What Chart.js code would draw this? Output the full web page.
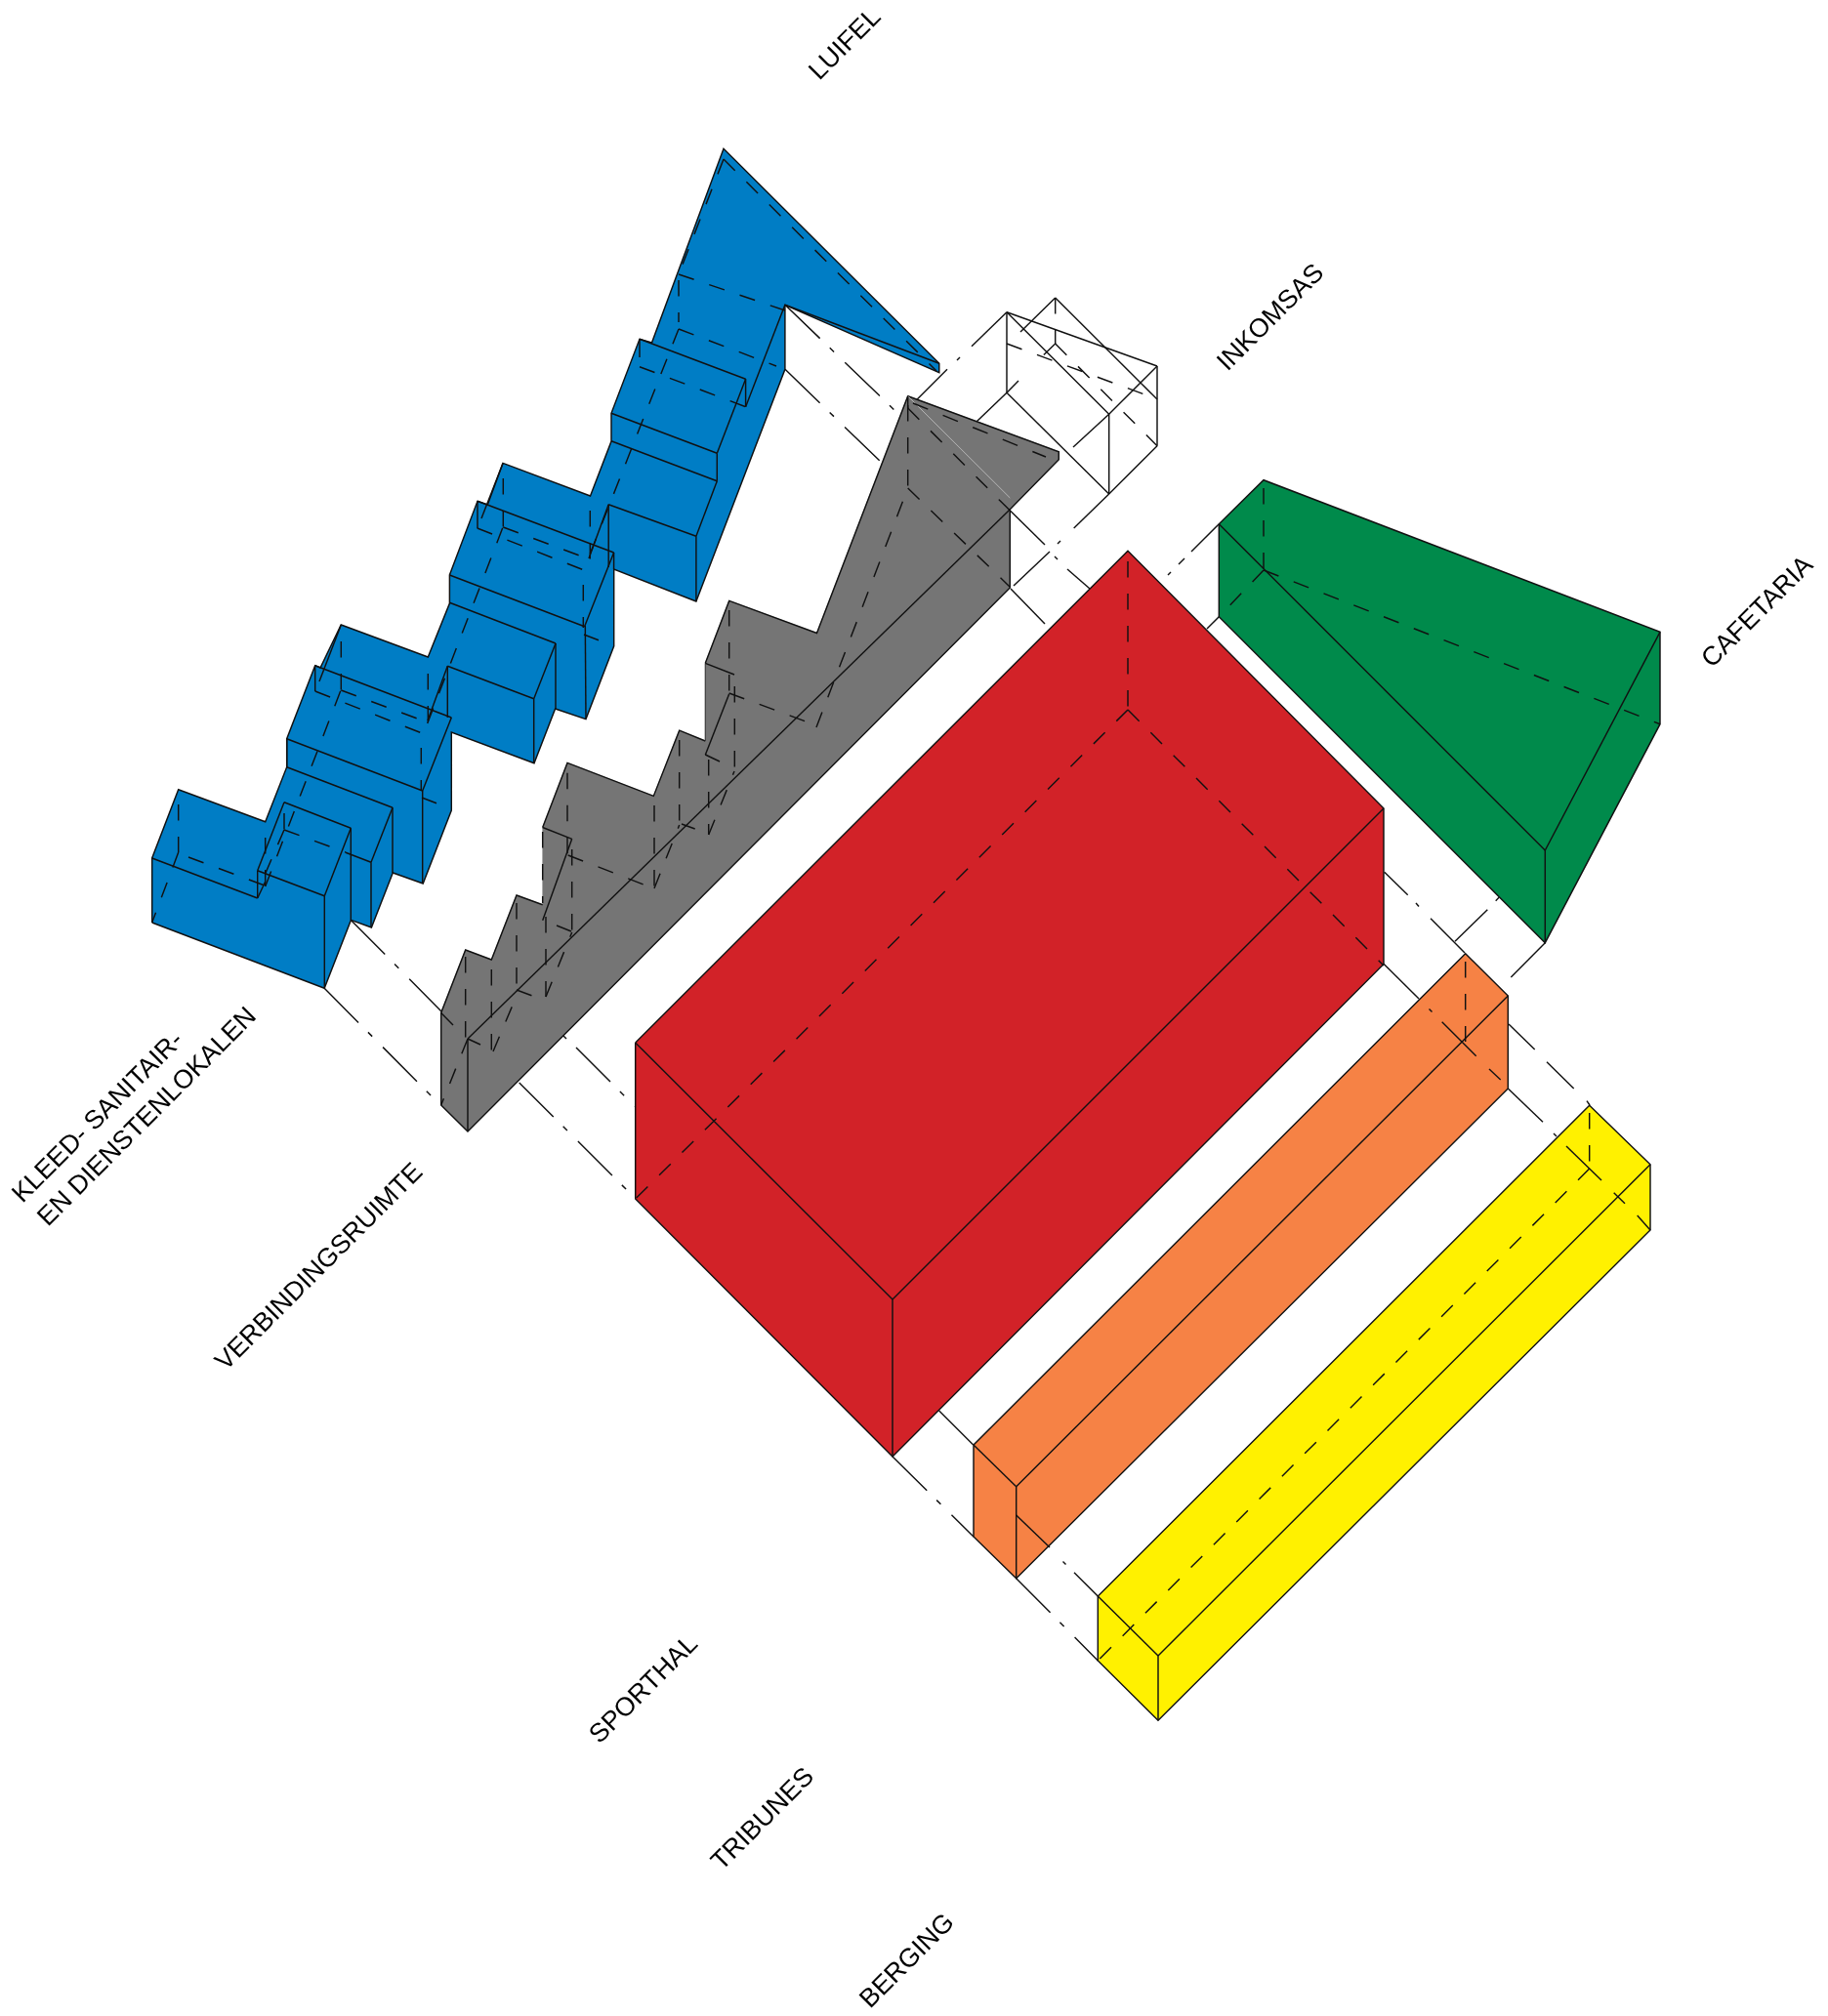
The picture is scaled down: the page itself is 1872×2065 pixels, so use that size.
<!DOCTYPE html>
<html><head><meta charset="utf-8">
<script src="https://cdn.jsdelivr.net/npm/chart.js@4"></script>
<style>html,body{margin:0;padding:0;background:#fff}canvas{display:block}</style>
</head><body>
<canvas id="c" width="1872" height="2065"></canvas>
<script>
// ---- labels ----
const labelTexts = ["LUIFEL","INKOMSAS","CAFETARIA","KLEED- SANITAIR-","EN DIENSTENLOKALEN","VERBINDINGSRUIMTE","SPORTHAL","TRIBUNES","BERGING"];
const labelX = [839,1257,1753,23,49,231,614,739,891];
const labelY = [83,381,685,1233,1257,1405,1787,1917,2058];
// ---- volumes (outlines) ----
const blueOutline = [[155.7,945],[155.7,879],[182.7,808.7],[271.7,841.7],[293.7,785.7],[293.7,756.7],[322.7,681.7],[328,684],[349.3,640],[438.3,673],[460.4,618],[460.4,589],[489,513.3],[499.3,517],[515,474.4],[604.5,508],[626,452],[626,423.3],[655,347.3],[667.5,351],[741,152.3],[961.8,372.3],[961.8,381.7],[803.9,312.3],[803.9,378.3],[712.9,616],[628.7,583],[628.7,661.8],[600,736.6],[568.6,726],[547,781.8],[462.3,750],[462.3,830],[433.2,905],[402.3,894],[380.4,950],[359.4,942.4],[332.2,1012.3]];
const grayOutline = [[479,1159],[451.7,1132],[451.7,1037.5],[476.7,973],[503.3,983],[529,917],[555.7,926.8],[555.7,847.5],[581,781.4],[669.3,815.4],[695.7,748.2],[722.3,759],[722.3,679.3],[746.7,615.4],[836.5,648.5],[929.7,405.7],[1084.3,462.7],[1084.3,470.7],[1034.3,521.7],[1034.3,602]];
const grayBorderLow = [[555.7,926.8],[529,917],[503.3,983],[476.7,973],[451.7,1037.5],[451.7,1132],[479,1159],[1034.3,602],[1034.3,521.7],[1084.3,470.7],[1084.3,462.7],[929.7,405.7],[836.5,648.5],[746.7,615.4],[722.3,679.3]];
const grayBorderHigh = [[722.3,759],[695.7,748.2],[669.3,815.4],[581,781.4],[555.7,847.5]];
const redOutline = [[650.7,1068],[1155,564.3],[1417,828],[1417,987.5],[914,1492],[650.7,1228]];
const orangeOutline = [[997,1480],[1500.7,976.7],[1544.3,1020],[1544.3,1115],[1040.7,1616.7],[997,1574]];
const yellowOutline = [[1124.3,1635],[1627.7,1132.3],[1690,1192.7],[1690,1260],[1186,1762.3],[1124.3,1701]];
const greenOutline = [[1248.3,536.7],[1294,491.7],[1700,647.3],[1700,741.7],[1582.3,965.7],[1248.3,631.7]];
// ---- dash-dot construction lines: x1,y1,x2,y2 ----
const dashDotLines = [[332.2,1012.3,452,1133],[359.4,942.4,452,1036],[531.7,1109,651,1228],[914,1492,997,1574],[1040.7,1616.7,1124.3,1701],[590,1073,651,1134],[804,312.3,918,422],[804,378.3,905,476]];
const constructionPieces = [[576,1060,580,1064],[961.7,1445,996.7,1480],[1417.7,893.3,1441.7,916.7],[1450,925,1453,928.5],[1465,940.7,1500,976],[1035,603,1070,639],[1417,987.3,1453,1023],[1544.3,1115,1580,1149.3],[1591,1161,1594,1164],[1545,1049,1571.7,1075],[1584,1087.7,1611.7,1115],[1625,1127.7,1628,1132],[1031,319.7,995,354.7],[980,369,983,366],[970,378.3,935,413.3],[1031,402.3,995,436.7],[980,451.7,983,448.5],[970,461.7,935,495],[1135.7,424.3,1099,458],[1135.7,506,1099.7,541],[1083,557,1086,554],[1075,565,1038,600],[1248.3,536.7,1220,565],[1213,572,1207,578],[1196,589,1199,586],[1248.3,631.7,1236,644],[1582.3,965.7,1547.3,1001],[1523.3,931.7,1490,964.3],[1531.7,922.7,1535,919.3]];
const overPieces = [[1040.7,1552,1075,1585],[1088.5,1599.5,1091.5,1602.5],[1100,1610.7,1124.3,1635],[1023,511.7,1070,558],[1080,570,1083,573],[1093,583,1116,603],[1463.5,1033.5,1466.5,1036.5],[1476.7,1046.7,1511.7,1081.7],[1525,1095,1536.7,1106],[1604,1174,1640,1209],[1652.7,1221.7,1664,1232.7],[1676.7,1245,1690,1260]];
// ---- solid edges ----
const blueEdges = [[155.7,879,263.7,920],[263.7,920,263.7,891.7],[263.7,920,271.7,903],[263.7,891.7,332.3,917.7],[332.3,917.7,332.3,1012.3],[332.3,917.7,359.3,848.3],[359.3,848.3,291,821.7],[291,821.7,263.7,891.7],[359.3,848.3,359.3,942.3],[293.7,785.7,402,827.3],[402,827.3,380,883.3],[380,883.3,380,950],[354,873.3,380,883.3],[402,827.3,402,894],[293.7,756.7,432.7,810],[293.7,756.7,293.7,785.7],[432.7,810,432.7,905],[432.7,810,462.3,735],[322.7,681.7,462.3,735],[322.7,681.7,322.7,708],[349.3,640,327,698],[458.3,682.3,546.7,715.7],[546.7,715.7,546.7,781.7],[546.7,715.7,569,659],[569,659,569,726],[458.3,682.3,458.3,735],[458.3,682.3,438,738],[460.4,589,598.6,641.7],[460.4,617.3,569,659],[489,513.3,628.6,566],[489,513.3,489,541],[598.6,641.7,628.6,566],[599.3,641,600,736],[628.6,566,628.6,583],[515,474.4,493,531],[623.2,516.7,712.9,549.3],[712.9,549.3,712.9,616],[712.9,549.3,734.3,492.7],[623.2,516.7,623.2,581],[623.2,516.7,603,572],[626,423.3,734.3,464.3],[626,451.7,734.3,492.7],[734.3,464.3,734.3,492.7],[734.3,464.3,763.6,388.3],[655,347.3,763.6,388.3],[655,347.3,655,366],[763.6,388.3,763.6,416.7],[763.6,416.7,803.9,312.3],[803.9,312.3,961.8,372.3]];
const grayEdges = [[479,1064,1034.3,521.7],[479,1064,479,1159],[555.7,847.5,585.7,859.3],[585.7,859.3,555.7,942.7],[722.3,679.3,752,691],[746.7,710.7,722.3,773.2],[451.7,1037.5,464,1050],[929.7,405.7,929.7,418]];
const redEdges = [[650.7,1068,914,1331],[914,1331,1417,828],[914,1331,914,1492]];
const orangeEdges = [[997,1480,1040.7,1522.7],[1040.7,1522.7,1544.3,1020],[1040.7,1522.7,1040.7,1616.7]];
const yellowEdges = [[1124.3,1635,1186,1696],[1186,1696,1690,1192.7],[1186,1696,1186,1762.3]];
const greenEdges = [[1248.3,536.7,1582.3,871],[1582.3,871,1582.3,965.7],[1582.3,871,1700,647.3]];
const entranceEdges = [[1031,319.7,1185,375],[1031,319.7,1135.7,424.3],[1031,319.7,1031,402.3],[1031,402.3,1135.7,506],[1135.7,424.3,1135.7,506],[1135.7,424.3,1185,375],[1185,375,1185,456.7],[1135.7,506,1185,456.7],[1080.7,305,1185,409],[1080.7,305,1045,340],[1031,402.3,1043,390]];
const faintEdge = [[929.7,405.7,1034.3,510]];
const softEdge = [[722.3,679.3,722.3,759]];
// ---- hidden (dashed) edges ----
const blueHidden = [[182.7,824,182.7,873],[182.7,873,155.7,945],[193,878,271,907],[271.7,858,271.7,908],[271.7,908,349,707],[291,833,291,850],[291,850,354,873],[291,850,266,908],[349.3,657,349.3,707],[349.3,707,438,740],[322.7,708,432,751],[438.3,690,438.3,742],[431.3,766,431.3,810],[432,817,447,822.7],[515.3,490,515.3,540],[437.7,741,515,540],[515.3,540,604,573],[488.7,541,598,584],[604.3,523,604.3,575],[597.3,599,597.3,643],[598,650,613,655.7],[741,163,695,281],[695,281,804,318],[695,287,695,330],[695,337,795,375],[695,337,602,573],[655,375.7,763.6,416.7],[741,163,959,380]];
const grayHidden = [[476.7,980,476.7,1064],[503.3,993,503.3,1077],[529,925,529,1014],[559,939,559,1021],[585.7,870,585.7,955],[581,791.7,581,875],[670,825,670,910],[695.7,758,695.7,845],[725.7,778,725.7,855],[746.7,625,746.7,710],[752.3,703,752.3,792],[555.7,852,555.7,925],[479,1064,492,1070],[529,1014,545,1020],[581.7,876,659,906],[570,948,585,954],[698,844,711.7,849],[722.3,773,737,780],[746.7,710,836,743],[479,1064,451.7,1132],[505,1077,529,1020],[559,1021,585.7,955],[670,910,695.7,845],[725.7,855,752,790],[836,745,929.7,500],[929.7,415,929.7,500],[935,413,1071,468],[929.7,418,1023,511.7],[929.7,500,1034,601]];
const redHidden = [[1155,575,1155,727],[1155,727,650.7,1228],[1155,727,1417,989]];
const orangeHidden = [[1500.7,985,1500.7,1067]];
const yellowHidden = [[1627.7,1140,1627.7,1197],[1627.7,1197,1124.3,1701]];
const greenHidden = [[1294,500,1294,584],[1294,584,1248.3,631.7],[1294,584,1700,741.7]];
const entranceHidden = [[1080.7,305,1080.7,352],[1031,352,1172,404],[1080.7,352,1060,372],[1080.7,352,1185,456.7]];

const BLUE="#007dc5",GRAY="#757575",RED="#d22228",ORANGE="#f68245",YELLOW="#fff100",GREEN="#008a4b",INK="#111111";
const DD=[49.5,14,6,15.5], DASH=[16.5,16.5], LW=1.45;
const sets=[];
function line(pts,o){o=o||{};sets.push({data:pts.map(p=>({x:p[0],y:p[1]})),showLine:true,pointRadius:0,tension:0,
  borderColor:o.color||INK,borderWidth:o.w===undefined?LW:o.w,borderDash:o.dash||[],backgroundColor:o.fill||"transparent",fill:o.fill?"shape":false,
  borderJoinStyle:"miter",clip:false});}
function segs(list,o){list.forEach(s=>line([[s[0],s[1]],[s[2],s[3]]],o));}
function poly(list,color){line(list.concat([list[0]]),{fill:color});}

segs(dashDotLines,{dash:DD});
segs(constructionPieces);
poly(blueOutline,BLUE);
line(grayOutline.concat([grayOutline[0]]),{fill:GRAY,color:GRAY,w:0.5});
line(grayBorderLow); line(grayBorderHigh);
[[redOutline,RED],[orangeOutline,ORANGE],[yellowOutline,YELLOW],[greenOutline,GREEN]].forEach(a=>poly(a[0],a[1]));
segs(faintEdge,{color:"#b5b5b5",w:1});
segs(softEdge,{color:"#3a3a3a",w:1.1});
[blueEdges,grayEdges,redEdges,orangeEdges,yellowEdges,greenEdges,entranceEdges].forEach(l=>segs(l));
[blueHidden,grayHidden,redHidden,orangeHidden,yellowHidden,greenHidden,entranceHidden].forEach(l=>segs(l,{dash:DASH}));
segs(overPieces);
sets.forEach((d,i)=>{d.order=sets.length-i;});

const labelPlugin={id:"labels",afterDraw(ch){const c=ch.ctx;c.save();c.fillStyle="#000";c.font='26.8px "Liberation Sans"';c.textAlign="left";c.textBaseline="alphabetic";
 labelTexts.forEach((t,i)=>{c.save();c.translate(ch.scales.x.getPixelForValue(labelX[i]),ch.scales.y.getPixelForValue(labelY[i]));c.rotate(-Math.PI/4);c.fillText(t,0,0);c.restore();});c.restore();}};

new Chart(document.getElementById("c"),{type:"scatter",data:{datasets:sets},plugins:[labelPlugin],options:{responsive:false,animation:false,devicePixelRatio:1,
 layout:{padding:0},plugins:{legend:{display:false},tooltip:{enabled:false},title:{display:false}},events:[],
 scales:{x:{type:"linear",min:0,max:1872,display:false},y:{type:"linear",min:0,max:2065,reverse:true,display:false}}}});
</script></body></html>
